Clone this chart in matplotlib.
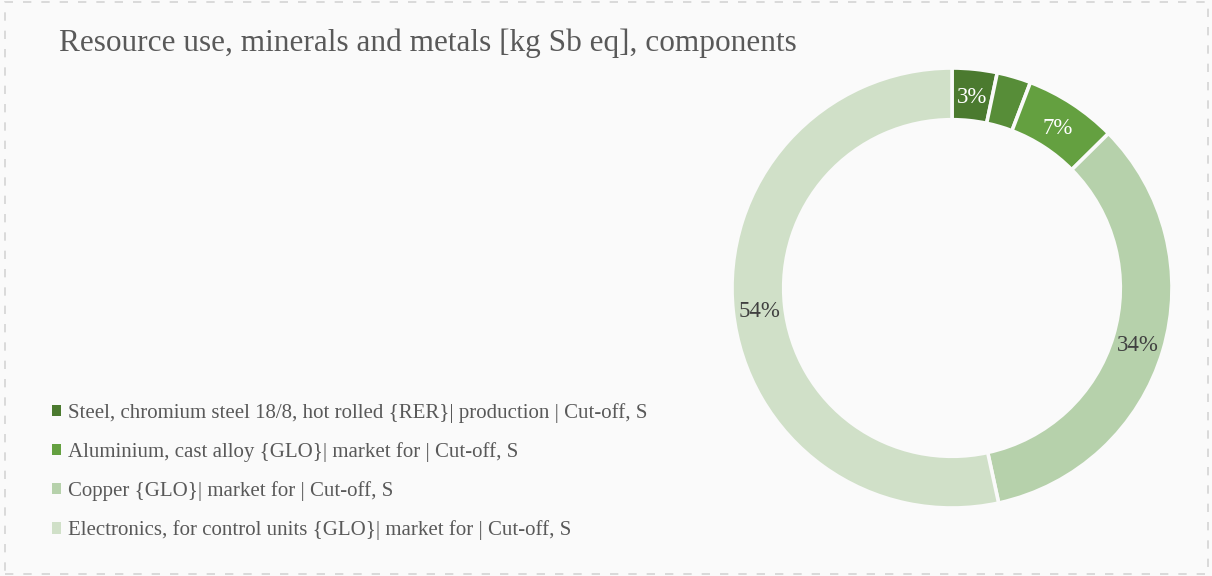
import numpy as np
import matplotlib
matplotlib.use("Agg")
import matplotlib.pyplot as plt
from matplotlib.patches import Rectangle, Patch

# Shares of resource use (minerals and metals) per component
shares = [3.3, 2.5, 6.8, 34.0, 53.4]
pct_labels = ["3%", "", "7%", "34%", "54%"]
slice_colors = ["#4b7a2f", "#578d38", "#64a040", "#b6d1ab", "#d0e0c8"]
label_colors = ["white", "white", "white", "#404040", "#404040"]

legend_names = [
    "Steel, chromium steel 18/8, hot rolled {RER}| production | Cut-off, S",
    "Aluminium, cast alloy {GLO}| market for | Cut-off, S",
    "Copper {GLO}| market for | Cut-off, S",
    "Electronics, for control units {GLO}| market for | Cut-off, S",
]
legend_colors = ["#4b7a2f", "#64a040", "#b6d1ab", "#d0e0c8"]

title = "Resource use, minerals and metals [kg Sb eq], components"

W, H = 1212, 576
fig = plt.figure(figsize=(W / 100, H / 100), dpi=100)
fig.patch.set_facecolor("#fafafa")
plt.rcParams["font.family"] = ["Liberation Serif", "DejaVu Serif"]

# dashed frame around the chart area
fig.add_artist(Rectangle((4.5 / W, 2.5 / H), (1208 - 4.5) / W, (574 - 2.5) / H,
                         transform=fig.transFigure, fill=False,
                         edgecolor="#d4d4d4", linewidth=1.2,
                         linestyle=(0, (5, 6))))

fig.text(59 / W, 1 - 43 / H, title, fontsize=22.5, color="#595959",
         ha="left", va="center")

# donut
cx, cy, r = 952, 288, 220
ax = fig.add_axes([(cx - r) / W, (H - cy - r) / H, 2 * r / W, 2 * r / H])
ax.set_facecolor("none")
wedges, texts = ax.pie(shares, colors=slice_colors, startangle=90,
                       counterclock=False, radius=1,
                       wedgeprops=dict(width=0.235, edgecolor="#fafafa",
                                       linewidth=2.6))
for w, lab, col in zip(wedges, pct_labels, label_colors):
    ang = np.deg2rad((w.theta1 + w.theta2) / 2)
    rr = 0.882
    ax.text(rr * np.cos(ang), rr * np.sin(ang) - 0.012, lab, ha="center",
            va="center", fontsize=16.5, color=col)
ax.set_xlim(-1, 1)
ax.set_ylim(-1, 1)
ax.set_aspect("equal")
ax.axis("off")

handles = [Patch(facecolor=c, edgecolor="none") for c in legend_colors]
fig.legend(handles, legend_names, loc="upper left",
           bbox_to_anchor=(33 / W, 1 - 384 / H), frameon=False,
           fontsize=15, labelcolor="#595959", handlelength=0.45,
           handleheight=0.45, handletextpad=0.32, labelspacing=0.93)

fig.savefig("out.png", dpi=100, facecolor=fig.get_facecolor())
